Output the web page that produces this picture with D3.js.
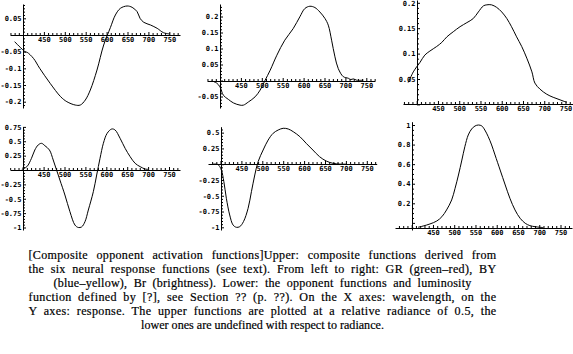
<!DOCTYPE html>
<html><head><meta charset="utf-8">
<script src="https://cdn.jsdelivr.net/npm/d3@7"></script>
<style>html,body{margin:0;padding:0;background:#fff;} svg{display:block;}</style>
</head><body>
<svg id="c" width="573" height="354"></svg>
<script>
// ---------- data ----------
const grWavelength = [380, 405, 410, 425, 440, 465, 490, 505, 525, 537, 549, 561, 577, 593, 609, 621, 633, 649, 661, 673, 680, 689, 705, 721, 736, 752];
const grResponse   = [-0.02, -0.05, -0.052, -0.07, -0.1, -0.145, -0.185, -0.2, -0.21, -0.21, -0.195, -0.165, -0.105, -0.03, 0.022, 0.06, 0.08, 0.087, 0.083, 0.07, 0.05, 0.038, 0.03, 0.02, 0.007, 0.003];

const byWavelength = [380, 392, 400, 408, 420, 432, 448, 456, 468, 484, 496, 508, 520, 536, 555, 575, 591, 603, 615, 627, 639, 651, 659, 667, 675, 683, 695, 707, 713, 719, 727, 743];
const byResponse   = [-0.001, -0.008, -0.02, -0.046, -0.059, -0.07, -0.077, -0.077, -0.067, -0.051, -0.03, 0.001, 0.032, 0.079, 0.126, 0.162, 0.199, 0.225, 0.232, 0.228, 0.214, 0.194, 0.173, 0.126, 0.074, 0.037, 0.012, 0.007, 0.003, 0.005, 0.001, 0.001];

const brWavelength = [380, 392, 400, 408, 419, 431, 447, 459, 471, 486, 502, 518, 533, 545, 557, 565, 576, 588, 600, 612, 623, 635, 647, 659, 671, 678, 690, 706, 721, 737, 753];
const brResponse   = [0.043, 0.064, 0.074, 0.083, 0.097, 0.105, 0.114, 0.122, 0.133, 0.143, 0.153, 0.161, 0.169, 0.182, 0.194, 0.196, 0.196, 0.191, 0.182, 0.169, 0.153, 0.133, 0.114, 0.091, 0.064, 0.042, 0.030, 0.020, 0.014, 0.009, 0.004];

const rgWavelength = [398, 410, 421, 429, 437, 445, 453, 464, 473, 481, 489, 501, 513, 525, 533, 541, 549, 557, 569, 577, 585, 593, 602, 613, 621, 633, 645, 657, 669, 681, 693, 700];
const rgResponse   = [0.012, 0.058, 0.203, 0.348, 0.435, 0.464, 0.423, 0.348, 0.174, 0.0, -0.174, -0.435, -0.725, -0.957, -1.0, -0.99, -0.899, -0.696, -0.377, -0.087, 0.203, 0.464, 0.638, 0.713, 0.696, 0.551, 0.377, 0.232, 0.116, 0.058, 0.017, 0.012];

const ybWavelength = [382, 394, 402, 408, 414, 422, 430, 438, 446, 455, 466, 474, 482, 490, 502, 514, 526, 538, 550, 562, 574, 590, 605, 621, 637, 653, 669, 685, 701];
const ybResponse   = [0.0, -0.005, -0.092, -0.277, -0.54, -0.805, -0.963, -1.0, -0.99, -0.91, -0.70, -0.435, -0.171, 0.04, 0.225, 0.383, 0.49, 0.542, 0.569, 0.558, 0.515, 0.436, 0.331, 0.225, 0.119, 0.05, 0.014, 0.002, 0.0];

const lumWavelength = [415, 427, 443, 459, 471, 482, 494, 502, 510, 518, 525, 533, 541, 549, 557, 565, 572, 580, 588, 596, 608, 620, 631, 643, 655, 667, 678, 690, 702, 710];
const lumResponse   = [-0.045, -0.032, -0.011, 0.019, 0.063, 0.132, 0.234, 0.353, 0.489, 0.642, 0.778, 0.898, 0.959, 0.99, 1.0, 0.99, 0.949, 0.881, 0.796, 0.694, 0.54, 0.387, 0.251, 0.132, 0.047, -0.004, -0.028, -0.039, -0.045, -0.049];

const xTickLabels  = [450, 500, 550, 600, 650, 700, 750];
const yTicksGR  = [-0.2, -0.15, -0.1, -0.05, 0.05];
const yTicksBY  = [-0.05, 0.05, 0.1, 0.15, 0.2];
const yTicksBr  = [0.05, 0.1, 0.15, 0.2];
const yTicksRG  = [-1, -0.75, -0.5, -0.25, 0.25, 0.5, 0.75];
const yTicksYB  = [-1, -0.75, -0.5, -0.25, 0.25, 0.5];
const yTicksLum = [0.2, 0.4, 0.6, 0.8, 1];

const captionLines = [
  "[Composite opponent activation functions]Upper: composite functions derived from",
  "the six neural response functions (see text). From left to right: GR (green\u2013red), BY",
  "(blue\u2013yellow), Br (brightness). Lower: the opponent functions and luminosity",
  "function defined by [?], see Section ?? (p. ??). On the X axes: wavelength, on the",
  "Y axes: response. The upper functions are plotted at a relative radiance of 0.5, the",
  "lower ones are undefined with respect to radiance."
];

// ---------- layout ----------
const panels = [
  {wl: grWavelength, val: grResponse, ticks: yTicksGR, major: 0.05, minor: 0.01,
   xr: [23, 169.3], yd: [0, -0.2], yr: [35, 101.7], xAxisAt: 0, xLine: [10, 180], yLine: [4, 108]},
  {wl: byWavelength, val: byResponse, ticks: yTicksBY, major: 0.05, minor: 0.01,
   xr: [220, 366.3], yd: [0, 0.2], yr: [80.5, 16.5], xAxisAt: 0, xLine: [207, 375], yLine: [4, 108]},
  {wl: brWavelength, val: brResponse, ticks: yTicksBr, major: 0.05, minor: 0.01,
   xr: [416.7, 565.5], yd: [0, 0.05], yr: [104.4, 79], xAxisAt: 0, xLine: [403, 573], yLine: [0, 104.5]},
  {wl: rgWavelength, val: rgResponse, ticks: yTicksRG, major: 0.25, minor: 0.05,
   xr: [22.7, 169], yd: [0, -1], yr: [170, 227.5], xAxisAt: 0, xLine: [10, 180], yLine: [126.7, 230]},
  {wl: ybWavelength, val: ybResponse, ticks: yTicksYB, major: 0.25, minor: 0.05,
   xr: [220.5, 366.8], yd: [0, -1], yr: [164.2, 227.3], xAxisAt: 0, xLine: [208, 376.7], yLine: [126.7, 230]},
  {wl: lumWavelength, val: lumResponse, ticks: yTicksLum, major: 0.2, minor: 0.05,
   xr: [411.7, 560.5], yd: [0.2, 1], yr: [203.3, 125], xAxisAt: -0.049, xLine: [395, 572], yLine: [121.7, 230]}
];

const svg = d3.select("#c");
const fmt = d => String(+d.toFixed(2));
const tickFont = "'DejaVu Sans Mono', monospace";

panels.forEach(p => {
  const x0 = d3.scaleLinear().domain([400, 750]).range(p.xr);
  const y0 = d3.scaleLinear().domain(p.yd).range(p.yr);
  const ay = Math.round(y0(p.xAxisAt));
  const ax = Math.round(x0(400));
  const xs = d3.scaleLinear().domain([x0.invert(p.xLine[0]), x0.invert(p.xLine[1])]).range(p.xLine);
  const ys = d3.scaleLinear().domain([y0.invert(p.yLine[1]), y0.invert(p.yLine[0])]).range([p.yLine[1], p.yLine[0]]);

  const [xa, xb] = xs.domain();
  const xMinor = d3.range(Math.ceil(xa / 10) * 10, xb, 10).filter(v => v % 50 !== 0);
  const xMajor = d3.range(Math.ceil(xa / 50) * 50, xb, 50);
  const [ya, yb] = ys.domain();
  const n0 = Math.ceil(ya / p.minor - 1e-6), n1 = Math.floor(yb / p.minor + 1e-6);
  const yMinor = d3.range(n0, n1 + 1).map(i => +(i * p.minor).toFixed(4))
      .filter(v => Math.abs(v / p.major - Math.round(v / p.major)) > 1e-6);
  const yMajor = d3.range(Math.ceil(ya / p.major - 1e-6), Math.floor(yb / p.major + 1e-6) + 1).map(i => +(i * p.major).toFixed(4));

  const gx = svg.append("g").attr("transform", `translate(0,${ay})`);
  gx.call(d3.axisBottom(xs).tickValues(xMajor).tickSizeInner(-3).tickSizeOuter(0).tickPadding(1.8)
      .tickFormat(d => xTickLabels.includes(d) ? String(d) : ""));
  gx.append("g").call(d3.axisBottom(xs).tickValues(xMinor).tickSizeInner(-2).tickSizeOuter(0).tickFormat(""))
    .select(".domain").remove();
  const gy = svg.append("g").attr("transform", `translate(${ax},0)`);
  gy.call(d3.axisLeft(ys).tickValues(yMajor).tickSizeInner(-3).tickSizeOuter(0).tickPadding(1.5)
      .tickFormat(d => p.ticks.some(t => Math.abs(t - d) < 1e-6) ? fmt(d) : ""));
  gy.append("g").call(d3.axisLeft(ys).tickValues(yMinor).tickSizeInner(-2).tickSizeOuter(0).tickFormat(""))
    .select(".domain").remove();

  svg.selectAll("g text").attr("font-family", tickFont).attr("font-size", 7).attr("font-weight", "bold").attr("fill", "#000");
  svg.selectAll("g path.domain, g line").attr("stroke", "#000").attr("stroke-width", 1);

  const line = d3.line().x((d, i) => x0(p.wl[i])).y(d => y0(d)).curve(d3.curveCatmullRom.alpha(0.5));
  svg.append("path").attr("d", line(p.val)).attr("fill", "none").attr("stroke", "#000").attr("stroke-width", 1);
});

// caption: font size set by the last (natural) line, other lines widened by letter and word spacing
const capWidths = [468, 468, 418, 468, 468, 243];
const capFont = "'Liberation Serif', serif";
const cap = svg.append("g").selectAll("text").data(captionLines).join("text")
  .attr("x", 262.5).attr("y", (d, i) => 258.5 + i * 14.1)
  .attr("text-anchor", "middle")
  .attr("font-family", capFont).attr("font-size", 12)
  .attr("fill", "#000").attr("stroke", "#000").attr("stroke-width", 0.2)
  .text(d => d);
const nat = cap.nodes().map(n => n.getComputedTextLength());
cap.attr("font-size", 12 * capWidths[5] / nat[5]);
cap.each(function(d, i) {
  const sel = d3.select(this);
  const w = this.getComputedTextLength();
  const extra = capWidths[i] - w;
  if (Math.abs(extra) < 1) return;
  const spaces = (d.match(/ /g) || []).length;
  const ls = 0.4 * extra / d.length;
  sel.attr("letter-spacing", ls.toFixed(3));
  const w2 = this.getComputedTextLength();
  sel.attr("word-spacing", ((capWidths[i] - w2) / spaces).toFixed(2));
});
</script>
</body></html>
